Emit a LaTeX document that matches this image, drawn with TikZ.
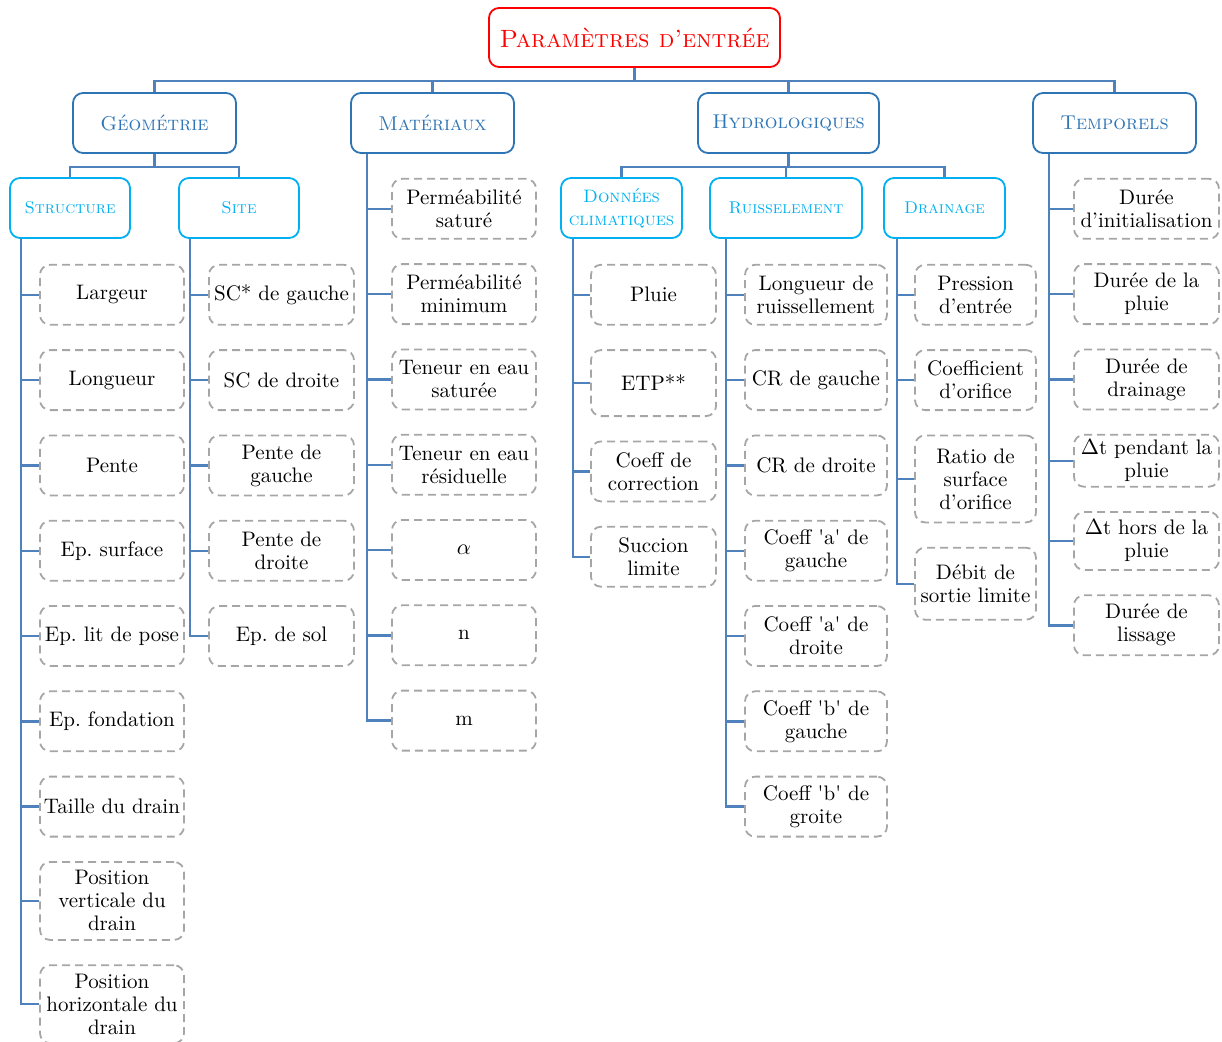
\documentclass[tikz,border=0pt]{standalone}
\usetikzlibrary{positioning}

\definecolor{rootred}{RGB}{255,0,0}
\definecolor{catblue}{RGB}{46,117,182}
\definecolor{subblue}{RGB}{0,176,240}
\definecolor{linkblue}{RGB}{79,129,189}
\definecolor{leafgray}{RGB}{166,166,166}
\frenchspacing

\begin{document}
\begin{tikzpicture}[
    x=0.5pt, y=0.5pt,
    node distance=11.75pt,
    font=\fontsize{10.5}{11.5}\selectfont,
    root/.style={
        draw=rootred,
        line width=0.9pt,
        rounded corners=5pt,
        minimum width=145.5pt,
        minimum height=29.5pt,
        text=rootred,
        font=\fontsize{12.5}{14}\selectfont\scshape
    },
    cat/.style={
        draw=catblue,
        line width=0.9pt,
        rounded corners=5pt,
        align=center,
        minimum width=#1,
        minimum height=30pt,
        text=catblue,
        font=\fontsize{10}{12}\selectfont\scshape
    },
    sub/.style={
        draw=subblue,
        line width=0.9pt,
        rounded corners=5pt,
        align=center,
        minimum width=#1,
        minimum height=30pt,
        text=subblue,
        font=\fontsize{8.5}{11.5}\selectfont\scshape
    },
    leaf/.style={
        draw=leafgray,
        dash pattern=on 4pt off 2.5pt,
        line width=0.9pt,
        rounded corners=5pt,
        align=center,
        minimum width=#1,
        minimum height=30pt,
        inner sep=2pt
    },
    link/.style={draw=linkblue, line width=1.2pt}
]
\useasboundingbox (0,0) rectangle (1222,-1041);

% racine et categories
\node[root] (root) at (634.5,-37.5) {Paramètres d’entrée};
\node[cat=81.5pt] (geo) at (154.5,-123) {Géométrie};
\node[cat=81.5pt] (mat) at (432.5,-123) {Matériaux};
\node[cat=90.5pt] (hydro) at (788.5,-123) {Hydrologiques};
\node[cat=81.5pt] (temps) at (1114.5,-123) {Temporels};

\node[sub=60pt] (struct) at (70,-208) {Structure};
\node[sub=60pt] (site) at (239,-208) {Site};
\node[sub=60.5pt, font=\fontsize{9}{11.5}\selectfont\scshape] (climat) at (621.5,-208) {Données\\climatiques};
\node[sub=76pt] (ruiss) at (786,-208) {Ruisselement};
\node[sub=60.5pt] (drain) at (944.5,-208) {Drainage};

% structure
\node[leaf=72pt, below right=12.5pt and 15pt of struct.south west] (largeur) {Largeur};
\node[leaf=72pt, below=of largeur] (longueur) {Longueur};
\node[leaf=72pt, below=of longueur] (pente) {Pente};
\node[leaf=72pt, below=of pente] (epsurf) {Ep. surface};
\node[leaf=72pt, below=of epsurf] (eplit) {Ep. lit de pose};
\node[leaf=72pt, below=of eplit] (epfond) {Ep. fondation};
\node[leaf=72pt, below=of epfond] (taille) {Taille du drain};
\node[leaf=72pt, minimum height=39pt, below=of taille] (posvert) {Position\\verticale du\\drain};
\node[leaf=72pt, minimum height=39pt, below=of posvert] (poshor) {Position\\horizontale du\\drain};

% site
\node[leaf=72.5pt, below right=12.5pt and 15pt of site.south west] (scg) {SC* de gauche};
\node[leaf=72.5pt, below=of scg] (scd) {SC de droite};
\node[leaf=72.5pt, below=of scd] (penteg) {Pente de\\gauche};
\node[leaf=72.5pt, below=of penteg] (pented) {Pente de\\droite};
\node[leaf=72.5pt, below=of pented] (epsol) {Ep. de sol};

% materiaux
\node[leaf=72pt, below right=12pt and 20.5pt of mat.south west] (permsat) {Perméabilité\\saturé};
\node[leaf=72pt, below=of permsat] (permmin) {Perméabilité\\minimum};
\node[leaf=72pt, below=of permmin] (tensat) {Teneur en eau\\saturée};
\node[leaf=72pt, below=of tensat] (tenres) {Teneur en eau\\résiduelle};
\node[leaf=72pt, below=of tenres] (alpha) {$\alpha$};
\node[leaf=72pt, below=of alpha] (nval) {n};
\node[leaf=72pt, below=of nval] (mval) {m};

% donnees climatiques
\node[leaf=62.5pt, below right=12.5pt and 15pt of climat.south west] (pluie) {Pluie};
\node[leaf=62.5pt, minimum height=33pt, below=of pluie] (etp) {ETP**};
\node[leaf=62.5pt, below=of etp] (coeffcor) {Coeff de\\correction};
\node[leaf=62.5pt, below=of coeffcor] (succion) {Succion\\limite};

% ruissellement
\node[leaf=71pt, below right=12.5pt and 17.5pt of ruiss.south west] (longruiss) {Longueur de\\ruissellement};
\node[leaf=71pt, below=of longruiss] (crg) {CR de gauche};
\node[leaf=71pt, below=of crg] (crd) {CR de droite};
\node[leaf=71pt, below=of crd] (coefag) {Coeff \textquotesingle a\textquotesingle\ de\\gauche};
\node[leaf=71pt, below=of coefag] (coefad) {Coeff \textquotesingle a\textquotesingle\ de\\droite};
\node[leaf=71pt, below=of coefad] (coefbg) {Coeff \textquotesingle b\textquotesingle\ de\\gauche};
\node[leaf=71pt, below=of coefbg] (coefbd) {Coeff \textquotesingle b\textquotesingle\ de\\groite};

% drainage
\node[leaf=60.5pt, below right=12.5pt and 15.5pt of drain.south west] (pression) {Pression\\d’entrée};
\node[leaf=60.5pt, below=of pression] (coefori) {Coefficient\\d’orifice};
\node[leaf=60.5pt, minimum height=43.5pt, below=of coefori] (ratio) {Ratio de\\surface\\d’orifice};
\node[leaf=60.5pt, minimum height=36pt, below=of ratio] (debit) {Débit de\\sortie limite};

% temporels
\node[leaf=72.5pt, below right=12pt and 20.5pt of temps.south west] (dinit) {Durée\\d’initialisation};
\node[leaf=72.5pt, below=of dinit] (dpluie) {Durée de la\\pluie};
\node[leaf=72.5pt, below=of dpluie] (ddrain) {Durée de\\drainage};
\node[leaf=72.5pt, minimum height=26pt, below=of ddrain] (dtpend) {$\Delta$t pendant la\\pluie};
\node[leaf=72.5pt, minimum height=29pt, below=of dtpend] (dthors) {$\Delta$t hors de la\\pluie};
\node[leaf=72.5pt, below=of dthors] (dliss) {Durée de\\lissage};

% liaisons
\coordinate (rootbus) at ([yshift=-6.5pt]root.south);
\draw[link] (root.south) -- (rootbus);
\draw[link] (rootbus) -| (geo.north);
\draw[link] (rootbus) -| (mat.north);
\draw[link] (rootbus) -| (hydro.north);
\draw[link] (rootbus) -| (temps.north);

\coordinate (geobus) at ([yshift=-6.5pt]geo.south);
\draw[link] (geo.south) -- (geobus);
\draw[link] (geobus) -| (struct.north);
\draw[link] (geobus) -| (site.north);

\coordinate (hydrobus) at ([yshift=-6.5pt]hydro.south);
\draw[link] (hydro.south) -- (hydrobus);
\draw[link] (hydrobus) -| (climat.north);
\draw[link] (hydrobus) -| (ruiss.north);
\draw[link] (hydrobus) -| (drain.north);

\coordinate (structspine) at ([xshift=6pt]struct.south west);
\draw[link] (structspine) |- (largeur.west) (structspine) |- (longueur.west)
    (structspine) |- (pente.west) (structspine) |- (epsurf.west)
    (structspine) |- (eplit.west) (structspine) |- (epfond.west)
    (structspine) |- (taille.west) (structspine) |- (posvert.west)
    (structspine) |- (poshor.west);

\coordinate (sitespine) at ([xshift=6pt]site.south west);
\draw[link] (sitespine) |- (scg.west) (sitespine) |- (scd.west)
    (sitespine) |- (penteg.west) (sitespine) |- (pented.west)
    (sitespine) |- (epsol.west);

\coordinate (matspine) at ([xshift=8.5pt]mat.south west);
\draw[link] (matspine) |- (permsat.west) (matspine) |- (permmin.west)
    (matspine) |- (tensat.west) (matspine) |- (tenres.west)
    (matspine) |- (alpha.west) (matspine) |- (nval.west)
    (matspine) |- (mval.west);

\coordinate (climatspine) at ([xshift=6.5pt]climat.south west);
\draw[link] (climatspine) |- (pluie.west) (climatspine) |- (etp.west)
    (climatspine) |- (coeffcor.west) (climatspine) |- (succion.west);

\coordinate (ruissspine) at ([xshift=8.5pt]ruiss.south west);
\draw[link] (ruissspine) |- (longruiss.west) (ruissspine) |- (crg.west)
    (ruissspine) |- (crd.west) (ruissspine) |- (coefag.west)
    (ruissspine) |- (coefad.west) (ruissspine) |- (coefbg.west)
    (ruissspine) |- (coefbd.west);

\coordinate (drainspine) at ([xshift=7pt]drain.south west);
\draw[link] (drainspine) |- (pression.west) (drainspine) |- (coefori.west)
    (drainspine) |- (ratio.west) (drainspine) |- (debit.west);

\coordinate (tempsspine) at ([xshift=8.5pt]temps.south west);
\draw[link] (tempsspine) |- (dinit.west) (tempsspine) |- (dpluie.west)
    (tempsspine) |- (ddrain.west) (tempsspine) |- (dtpend.west)
    (tempsspine) |- (dthors.west) (tempsspine) |- (dliss.west);

\end{tikzpicture}
\end{document}
